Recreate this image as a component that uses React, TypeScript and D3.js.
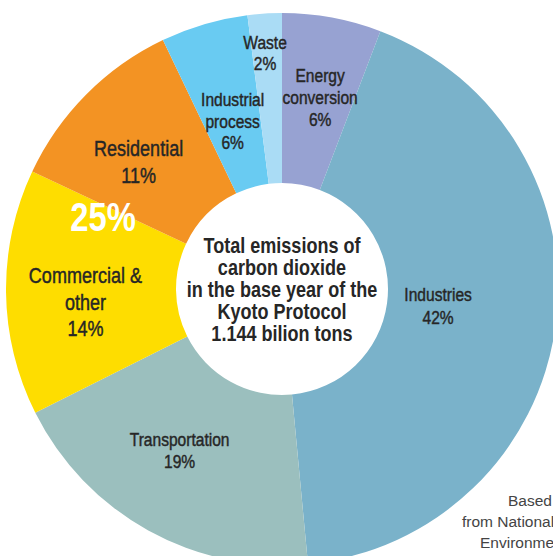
import React, { useEffect } from "react";
import * as d3 from "d3";

const WIDTH = 553;
const HEIGHT = 556;
const CX = 282;
const CY = 289;
const OUTER_R = 276;
const INNER_R = 106;
const NARROW = 0.82; // horizontal squeeze to mimic a condensed face

// clockwise from 12 o'clock
const categories = ["Energy conversion", "Industries", "Transportation", "Commercial & other", "Residential", "Industrial process", "Waste"];
const shares = [5.8, 42.7, 19.1, 14.4, 10.9, 5.1, 2.0];
const percentLabels = ["6%", "42%", "19%", "14%", "11%", "6%", "2%"];
const labelLines = [["Energy", "conversion"], ["Industries"], ["Transportation"], ["Commercial &", "other"], ["Residential"], ["Industrial", "process"], ["Waste"]];
const colors = ["#97a2d2", "#7ab2ca", "#9bbfbe", "#fedd00", "#f39323", "#69cbf2", "#aadcf5"];
const labelSizes = [19, 19, 19, 22, 22, 19, 19];
const lineHeights = [22, 23, 22, 26.5, 27, 21.5, 21];
// label placement: [fraction along slice angle, radius]
const labelPlacement: [number, number][] = [[0.54, 195], [0.49, 157], [0.55, 191], [0.44, 197], [0.42, 192], [0.5, 175], [0.43, 237]];

const centerLines = ["Total emissions of", "carbon dioxide", "in the base year of the", "Kyoto Protocol", "1.144 bilion tons"];
const sourceLines = ["Based", "from National", "Environme"];

const FONT = "'Liberation Sans', Arial, sans-serif";
const INK = "#262626";

export default function App() {
  useEffect(() => {
    document.body.style.margin = "0";
    document.body.style.overflow = "hidden";
  }, []);

  const pie = d3.pie<number>().sort(null).value(d => d)(shares);
  const arc = d3.arc<d3.PieArcDatum<number>>().innerRadius(INNER_R).outerRadius(OUTER_R);

  return (
    <svg width={WIDTH} height={HEIGHT} style={{ display: "block", background: "#fff" }}>
      <g transform={`translate(${CX},${CY})`}>
        {pie.map((d, i) => (
          <path key={categories[i]} d={arc(d) || ""} fill={colors[i]} />
        ))}
        {pie.map((d, i) => {
          const [f, r] = labelPlacement[i];
          const a = d.startAngle + (d.endAngle - d.startAngle) * f;
          const x = Math.sin(a) * r;
          const y = -Math.cos(a) * r;
          const lines = [...labelLines[i], percentLabels[i]];
          const lh = lineHeights[i];
          const y0 = -((lines.length - 1) * lh) / 2;
          return (
            <g key={"l" + i} transform={`translate(${x},${y}) scale(${NARROW},1)`}>
              <text textAnchor="middle" fontFamily={FONT} fontSize={labelSizes[i]} fill={INK}
                stroke={INK} strokeWidth={0.45}>
                {lines.map((t, j) => (
                  <tspan key={j} x={0} y={y0 + j * lh} dy="0.35em">{t}</tspan>
                ))}
              </text>
            </g>
          );
        })}
        <g transform={`translate(-179,-72) scale(${NARROW},1)`}>
          <text dy="0.35em" textAnchor="middle" fontFamily={FONT} fontSize={40} fontWeight="bold" fill="#fff">25%</text>
        </g>
        <g transform={`scale(${NARROW},1)`}>
          <text textAnchor="middle" fontFamily={FONT} fontSize={22} fontWeight="bold" fill={INK}>
            {centerLines.map((t, j) => (
              <tspan key={j} x={0} y={-44 + j * 22} dy="0.35em">{t}</tspan>
            ))}
          </text>
        </g>
      </g>
      <g fontFamily={FONT} fontSize={15.5} fill="#444">
        {sourceLines.map((t, j) => (
          <text key={j} x={[508, 462, 480][j]} y={501 + j * 21} dy="0.35em">{t}</text>
        ))}
      </g>
    </svg>
  );
}
